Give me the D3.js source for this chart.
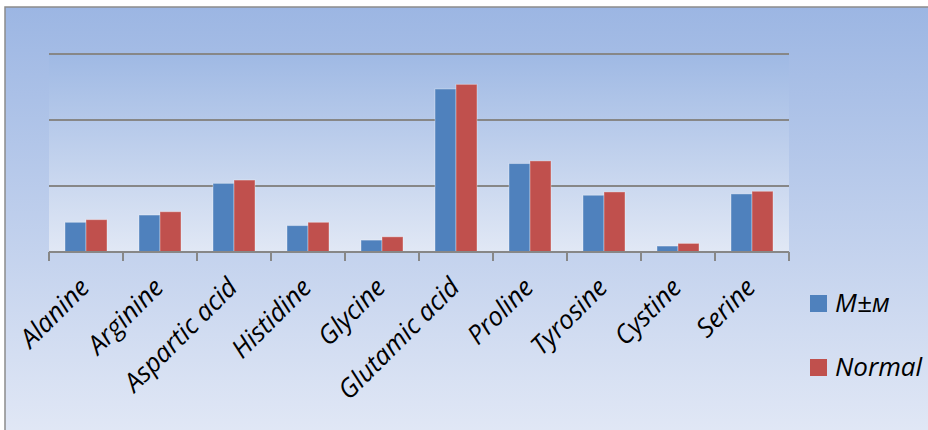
<!DOCTYPE html>
<html>
<head>
<meta charset="utf-8">
<script src="https://cdn.jsdelivr.net/npm/d3@7"></script>
<style>
  html, body { margin: 0; padding: 0; background: #ffffff; }
  svg { display: block; }
  text { font-family: "Open Sans", "DejaVu Sans", sans-serif; font-style: italic; fill: #000; }
</style>
</head>
<body>
<svg id="chart" width="928" height="430"></svg>
<script>
// Amino acid content: measured (M±м) against the normal level
const categories = ["Alanine", "Arginine", "Aspartic acid", "Histidine", "Glycine",
                    "Glutamic acid", "Proline", "Tyrosine", "Cystine", "Serine"];
const seriesNames = ["M±м", "Normal"];
const measured = [0.45, 0.56, 1.04, 0.40, 0.18, 2.47, 1.34, 0.86, 0.09, 0.88];
const normal   = [0.49, 0.61, 1.09, 0.45, 0.23, 2.54, 1.38, 0.91, 0.13, 0.92];
const gridValues = [0, 1, 2, 3];
const colors = ["#4F81BD", "#C0504D"];

const svg = d3.select("#chart");
const W = 928, H = 430;
const plot = { left: 49, right: 789, top: 54, bottom: 252 };

// Background gradients: chart area and plot area
const defs = svg.append("defs");
function vGrad(id, c0, c1) {
  const g = defs.append("linearGradient").attr("id", id)
    .attr("x1", 0).attr("y1", 0).attr("x2", 0).attr("y2", 1);
  g.append("stop").attr("offset", "0%").attr("stop-color", c0);
  g.append("stop").attr("offset", "100%").attr("stop-color", c1);
}
vGrad("bgGrad", "#9CB6E3", "#E3E9F6");
vGrad("plotGrad", "#9FB9E4", "#E1E8F5");

svg.append("rect")
  .attr("x", 5).attr("y", 7).attr("width", W + 10).attr("height", H + 10)
  .attr("fill", "url(#bgGrad)")
  .attr("stroke", "#8C8C8C").attr("stroke-width", 1.5);

svg.append("rect")
  .attr("x", plot.left).attr("y", plot.top)
  .attr("width", plot.right - plot.left).attr("height", plot.bottom - plot.top)
  .attr("fill", "url(#plotGrad)");

// Scales: two 21px bars per 74px category, 16px clear on each side
const x0 = d3.scaleBand().domain(categories).range([plot.left, plot.right])
  .paddingInner(0).paddingOuter(0);
const x1 = d3.scaleBand().domain(seriesNames).range([0, x0.bandwidth()])
  .paddingInner(0).paddingOuter(16 / 21);
const y = d3.scaleLinear().domain([0, 3]).range([plot.bottom, plot.top]);

// Horizontal gridlines
svg.append("g").selectAll("line").data(gridValues.slice(1)).join("line")
  .attr("x1", plot.left).attr("x2", plot.right)
  .attr("y1", d => y(d)).attr("y2", d => y(d))
  .attr("stroke", "#878787").attr("stroke-width", 2);

// Bars
const rows = categories.map((c, i) => ({ cat: c, vals: [measured[i], normal[i]] }));
const groups = svg.append("g").selectAll("g").data(rows).join("g")
  .attr("transform", d => `translate(${x0(d.cat)},0)`);
groups.selectAll("rect")
  .data(d => d.vals.map((v, k) => ({ name: seriesNames[k], v, k })))
  .join("rect")
  .attr("x", d => x1(d.name))
  .attr("width", x1.bandwidth())
  .attr("y", d => y(d.v))
  .attr("height", d => y(0) - y(d.v))
  .attr("fill", d => colors[d.k])
  .attr("stroke", "rgba(255,255,255,0.35)")
  .attr("stroke-width", 1);

// Category axis with tick marks at group boundaries
const axis = svg.append("g").attr("transform", `translate(0,${plot.bottom})`);
axis.append("line")
  .attr("x1", plot.left).attr("x2", plot.right).attr("y1", 0).attr("y2", 0)
  .attr("stroke", "#878787").attr("stroke-width", 2);
const boundaries = categories.map(c => x0(c)).concat([plot.right]);
axis.selectAll("line.tick").data(boundaries).join("line")
  .attr("class", "tick")
  .attr("x1", d => d).attr("x2", d => d).attr("y1", 0).attr("y2", 9)
  .attr("stroke", "#878787").attr("stroke-width", 2);

svg.append("g").selectAll("text").data(categories).join("text")
  .attr("transform", d => `translate(${x0(d) + x0.bandwidth() / 2 + 5},289) rotate(-45)`)
  .attr("text-anchor", "end")
  .attr("font-size", 26)
  .text(d => d);

// Legend
const legend = svg.append("g").attr("transform", "translate(810,295)");
const items = legend.selectAll("g").data(seriesNames).join("g")
  .attr("transform", (d, i) => `translate(0,${i * 64})`);
items.append("rect").attr("width", 17).attr("height", 17)
  .attr("fill", (d, i) => colors[i]);
items.append("text").attr("x", 25).attr("y", 17)
  .attr("font-size", 26)
  .text(d => d);
</script>
</body>
</html>
